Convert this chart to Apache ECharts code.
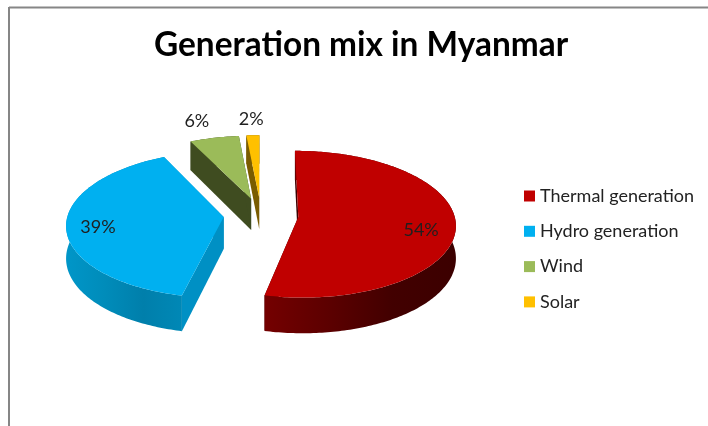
<!DOCTYPE html>
<html>
<head>
<meta charset="utf-8">
<title>Generation mix in Myanmar</title>
<script src="https://cdn.jsdelivr.net/npm/echarts@6/dist/echarts.min.js"></script>
<style>
  html, body { margin: 0; padding: 0; background: #fff; }
  #chart { width: 708px; height: 426px; }
</style>
</head>
<body>
<div id="chart"></div>
<script>
const categories = ['Thermal generation', 'Hydro generation', 'Wind', 'Solar']
const shares = [53.5, 39.3, 5.7, 1.5]

const faceColors = ['#c00000', '#00b0f0', '#9bbb59', '#ffc000']
const wallColors = [
  ['#740000', '#5c0000', '#420000', '#3c0000'],
  ['#0096c8', '#008cba', '#007fab', '#0088b6'],
  ['#3f4c20', '#3f4c20', '#3f4c20', '#3f4c20'],
  ['#7a5c00', '#7a5c00', '#7a5c00', '#7a5c00']
]
const cutColors = ['#3c0000', '#0090c4', '#3f4c20', '#7a5c00']

// projected disc: perspective factor k makes the near side bigger
const pie = { cx: 261, cy: 215, rx: 156, ry: 72.3, k: 0.0992, depth: 32, explode: 0.24 }
const labelRadius = [0.8, 0.8, 1.32, 1.3]
const labelShift = [[-3, 7], [0, 3], [-7, 1], [0, 1]]

const total = shares.reduce((a, b) => a + b, 0)

function project(u, v, drop) {
  const s = 1 / (1 - pie.k * v)
  return [pie.cx + pie.rx * u * s, pie.cy + pie.ry * v * s + drop * s]
}

function renderSlice(params, api) {
  const i = params.seriesIndex
  const before = shares.slice(0, i).reduce((a, b) => a + b, 0)
  const a0 = before / total * Math.PI * 2
  const a1 = a0 + api.value(0) / total * Math.PI * 2
  const mid = (a0 + a1) / 2
  const ox = Math.sin(mid) * pie.explode
  const oy = -Math.cos(mid) * pie.explode

  const topArc = []
  const lowArc = []
  const steps = Math.max(2, Math.ceil((a1 - a0) * 60))
  for (let n = 0; n <= steps; n++) {
    const a = a0 + (a1 - a0) * n / steps
    topArc.push(project(ox + Math.sin(a), oy - Math.cos(a), 0))
    lowArc.push(project(ox + Math.sin(a), oy - Math.cos(a), pie.depth))
  }
  const tipTop = project(ox, oy, 0)
  const tipLow = project(ox, oy, pie.depth)

  const wallStops = wallColors[i].map((c, n) => ({ offset: n / 3, color: c }))
  // cut faces have to go first, the rim and the top cover them
  const startCut = [tipTop, topArc[0], lowArc[0], tipLow]
  const endCut = [tipTop, topArc[steps], lowArc[steps], tipLow]

  const lr = labelRadius[i]
  const spot = project(ox + Math.sin(mid) * lr, oy - Math.cos(mid) * lr, 0)

  return {
    type: 'group',
    children: [
      { type: 'polygon', shape: { points: startCut }, style: { fill: cutColors[i] } },
      { type: 'polygon', shape: { points: endCut }, style: { fill: cutColors[i] } },
      {
        type: 'polygon',
        shape: { points: topArc.concat(lowArc.slice().reverse()) },
        style: { fill: { type: 'linear', x: 0, y: 0, x2: 1, y2: 0, colorStops: wallStops } }
      },
      { type: 'polygon', shape: { points: [tipTop].concat(topArc) }, style: { fill: faceColors[i] } },
      {
        type: 'text',
        style: {
          x: spot[0] + labelShift[i][0],
          y: spot[1] + labelShift[i][1],
          text: Math.round(shares[i] / total * 100) + '%',
          fill: '#1f1f1f',
          font: '18px Lato',
          align: 'center',
          verticalAlign: 'middle'
        }
      }
    ]
  }
}

const chart = echarts.init(document.getElementById('chart'), null, { renderer: 'canvas' })
chart.setOption({
  animation: false,
  backgroundColor: '#ffffff',
  title: {
    text: 'Generation mix in Myanmar',
    left: 149,
    top: 24,
    textStyle: { fontFamily: 'Lato', fontSize: 33.4, fontWeight: 'bold', color: '#000000' }
  },
  legend: {
    orient: 'vertical',
    left: 519,
    top: 181,
    icon: 'rect',
    itemWidth: 11,
    itemHeight: 11,
    itemGap: 15.3,
    selectedMode: false,
    data: categories,
    textStyle: { fontFamily: 'Lato', fontSize: 18, color: '#222222', lineHeight: 20 }
  },
  series: categories.map((name, i) => ({
    name: name,
    type: 'custom',
    coordinateSystem: 'none',
    itemStyle: { color: faceColors[i] },
    renderItem: renderSlice,
    data: [[shares[i]]]
  })),
  graphic: [
    { type: 'line', silent: true, shape: { x1: 9, y1: 7.5, x2: 708, y2: 7.5 }, style: { stroke: '#868686', lineWidth: 2 } },
    { type: 'line', silent: true, shape: { x1: 9, y1: 7, x2: 9, y2: 426 }, style: { stroke: '#868686', lineWidth: 2 } }
  ]
})
</script>
</body>
</html>
